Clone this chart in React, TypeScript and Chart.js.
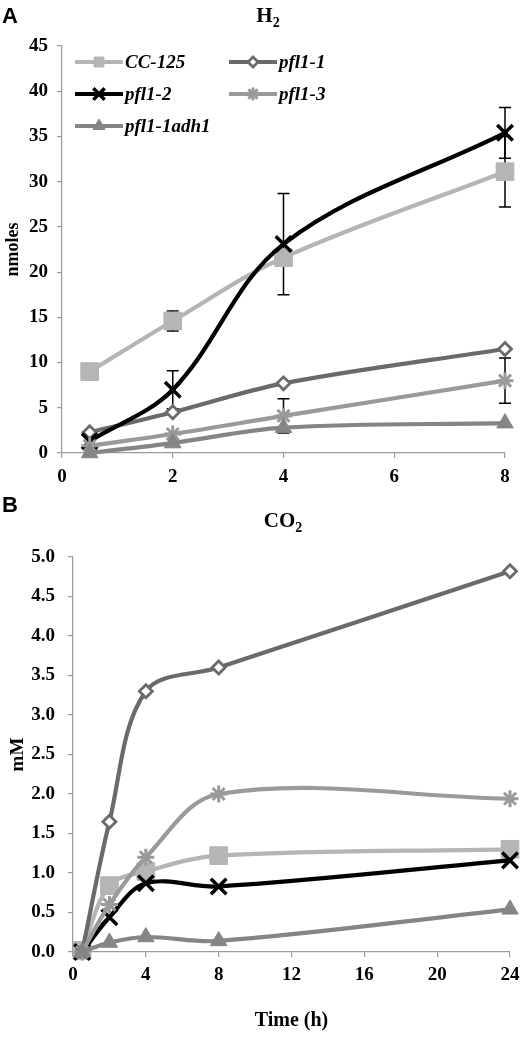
import React, { useEffect, useRef } from "react";
import { Chart, registerables } from "chart.js";
import { drawPoint } from "chart.js/helpers";

Chart.register(...registerables);

// ---------- data ----------
const seriesNames = ["CC-125", "pfl1-1", "pfl1-2", "pfl1-3", "pfl1-1adh1"];

// Panel A: H2 (nmoles)
const hoursA = [0.5, 2, 4, 8];
const h2CC125 = [9.0, 14.6, 21.6, 31.1];
const h2Pfl11 = [2.3, 4.5, 7.7, 11.5];
const h2Pfl12 = [1.3, 7.0, 23.1, 35.4];
const h2Pfl13 = [0.8, 2.1, 4.1, 8.0];
const h2Adh1 = [0.0, 1.1, 2.8, 3.3];
const h2ErrCC125 = [0, 1.1, 0, 3.9];
const h2ErrPfl11 = [0, 0, 0, 0];
const h2ErrPfl12 = [0, 2.1, 5.6, 2.8];
const h2ErrPfl13 = [0, 0, 1.9, 2.5];
const h2ErrAdh1 = [0, 0, 0, 0];

// Panel B: CO2 (mM)
const hoursB = [0.5, 2, 4, 8, 24];
const co2CC125 = [0.02, 0.84, 1.02, 1.22, 1.3];
const co2Pfl11 = [0.0, 1.65, 3.3, 3.6, 4.82];
const co2Pfl12 = [0.0, 0.44, 0.87, 0.83, 1.16];
const co2Pfl13 = [0.0, 0.6, 1.2, 2.0, 1.94];
const co2Adh1 = [0.0, 0.12, 0.19, 0.14, 0.54];

// ---------- styles ----------
const FONT = "'Liberation Serif', 'Times New Roman', serif";
const styles = [
  { color: "#b5b5b5", fill: "#b5b5b5", pointStyle: "rect", radius: 12.5, border: 1, legendRadius: 7 },
  { color: "#6a6a6a", fill: "#ffffff", pointStyle: "rectRot", radius: 6.5, border: 2.8, legendRadius: 5 },
  { color: "#000000", fill: "#000000", pointStyle: "crossRot", radius: 11, border: 3.5, legendRadius: 8 },
  { color: "#9a9a9a", fill: "#9a9a9a", pointStyle: "star", radius: 8.5, border: 3, legendRadius: 6.5 },
  { color: "#858585", fill: "#858585", pointStyle: "triangle", radius: 9.5, border: 1, legendRadius: 7 },
];

function makeDatasets(xs: number[], series: number[][], errs: number[][] | null) {
  return series.map((vals, i) => {
    const s = styles[i];
    return {
      label: seriesNames[i],
      data: vals.map((v, j) => ({ x: xs[j], y: v })),
      errors: errs ? errs[i] : null,
      borderColor: s.color,
      backgroundColor: s.fill,
      borderWidth: 4.2,
      tension: 0.35,
      pointStyle: s.pointStyle,
      pointRadius: s.radius,
      pointBorderWidth: s.border,
      pointBackgroundColor: s.fill,
      pointBorderColor: s.color,
      legendRadius: s.legendRadius,
      order: 10 - i,
      clip: false as any,
    };
  });
}

const errorBarPlugin = {
  id: "errorBars",
  beforeDatasetsDraw(chart: any) {
    const ctx = chart.ctx;
    const xs = chart.scales.x;
    const ys = chart.scales.y;
    ctx.save();
    ctx.strokeStyle = "#000";
    ctx.lineWidth = 1.5;
    chart.data.datasets.forEach((ds: any) => {
      if (!ds.errors) return;
      ds.data.forEach((p: any, j: number) => {
        const e = ds.errors[j];
        if (!e) return;
        const px = xs.getPixelForValue(p.x);
        const top = ys.getPixelForValue(p.y + e);
        const bot = ys.getPixelForValue(p.y - e);
        ctx.beginPath();
        ctx.moveTo(px, top);
        ctx.lineTo(px, bot);
        ctx.moveTo(px - 6, top);
        ctx.lineTo(px + 6, top);
        ctx.moveTo(px - 6, bot);
        ctx.lineTo(px + 6, bot);
        ctx.stroke();
      });
    });
    ctx.restore();
  },
};

const legendPlugin = {
  id: "insideLegend",
  afterDraw(chart: any) {
    const opts = chart.options.plugins.insideLegend;
    if (!opts || !opts.show) return;
    const ctx = chart.ctx;
    const ca = chart.chartArea;
    const colX = [ca.left + 13, ca.left + 167];
    const rowY = [ca.top + 16, ca.top + 48, ca.top + 80];
    const sampleW = 48;
    ctx.save();
    chart.data.datasets.forEach((ds: any, i: number) => {
      const col = i % 2;
      const row = Math.floor(i / 2);
      const x0 = colX[col];
      const y = rowY[row];
      ctx.strokeStyle = ds.borderColor;
      ctx.lineWidth = 4;
      ctx.beginPath();
      ctx.moveTo(x0, y);
      ctx.lineTo(x0 + sampleW, y);
      ctx.stroke();
      ctx.fillStyle = ds.pointBackgroundColor;
      ctx.strokeStyle = ds.pointBorderColor;
      ctx.lineWidth = ds.pointBorderWidth;
      drawPoint(ctx, { pointStyle: ds.pointStyle, radius: ds.legendRadius, borderWidth: ds.pointBorderWidth, rotation: 0 } as any, x0 + sampleW / 2, y);
      ctx.fillStyle = "#000";
      ctx.font = "italic bold 19px " + FONT;
      ctx.textBaseline = "middle";
      ctx.textAlign = "left";
      ctx.fillText(ds.label, x0 + sampleW + 2, y + 1);
    });
    ctx.restore();
  },
};

function axisCommon(extra: any) {
  return {
    type: "linear",
    grid: { display: true, drawOnChartArea: false, drawTicks: true, tickLength: 5, color: "#9a9a9a", lineWidth: 1.2 },
    border: { display: true, color: "#9a9a9a", width: 1.2 },
    ...extra,
  };
}

const tickFont = { family: FONT, size: 19, weight: "bold" };

function ChartA() {
  const ref = useRef<HTMLCanvasElement | null>(null);
  useEffect(() => {
    const chart = new Chart(ref.current as HTMLCanvasElement, {
      type: "line",
      data: {
        datasets: makeDatasets(hoursA, [h2CC125, h2Pfl11, h2Pfl12, h2Pfl13, h2Adh1], [h2ErrCC125, h2ErrPfl11, h2ErrPfl12, h2ErrPfl13, h2ErrAdh1]) as any,
      },
      options: {
        animation: false,
        responsive: false,
        devicePixelRatio: 1,
        layout: { padding: { top: 46, right: 26, left: 0, bottom: 0 } },
        plugins: { legend: { display: false }, tooltip: { enabled: false }, insideLegend: { show: true } } as any,
        scales: {
          x: axisCommon({
            min: 0, max: 8,
            ticks: { stepSize: 2, color: "#000", font: tickFont, padding: 8 },
            afterFit: (s: any) => { s.height = 42; },
          }),
          y: axisCommon({
            min: 0, max: 45,
            ticks: { stepSize: 5, color: "#000", font: tickFont, padding: 9 },
            title: { display: true, text: "nmoles", color: "#000", font: { family: FONT, size: 18, weight: "bold" }, padding: { top: 3, bottom: 0 } },
            afterFit: (s: any) => { s.width = 62; },
          }),
        } as any,
      },
      plugins: [errorBarPlugin, legendPlugin],
    });
    return () => chart.destroy();
  }, []);
  return <canvas ref={ref} width={531} height={495} style={{ position: "absolute", left: 0, top: 0 }} />;
}

function ChartB() {
  const ref = useRef<HTMLCanvasElement | null>(null);
  useEffect(() => {
    const chart = new Chart(ref.current as HTMLCanvasElement, {
      type: "line",
      data: {
        datasets: makeDatasets(hoursB, [co2CC125, co2Pfl11, co2Pfl12, co2Pfl13, co2Adh1], null) as any,
      },
      options: {
        animation: false,
        responsive: false,
        devicePixelRatio: 1,
        layout: { padding: { top: 62, right: 21, left: 0, bottom: 0 } },
        plugins: { legend: { display: false }, tooltip: { enabled: false }, insideLegend: { show: false } } as any,
        scales: {
          x: axisCommon({
            min: 0, max: 24,
            ticks: { stepSize: 4, color: "#000", font: tickFont, padding: 7 },
            title: { display: true, text: "Time (h)", color: "#000", font: { family: FONT, size: 20, weight: "bold" }, padding: { top: 0, bottom: 4 } },
            afterFit: (s: any) => { s.height = 85; },
          }),
          y: axisCommon({
            min: 0, max: 5,
            ticks: { stepSize: 0.5, color: "#000", font: tickFont, padding: 13, callback: (v: any) => Number(v).toFixed(1) },
            title: { display: true, text: "mM", color: "#000", font: { family: FONT, size: 19, weight: "bold" }, padding: { top: 7, bottom: 0 } },
            afterFit: (s: any) => { s.width = 73; },
          }),
        } as any,
      },
      plugins: [errorBarPlugin],
    });
    return () => chart.destroy();
  }, []);
  return <canvas ref={ref} width={531} height={542} style={{ position: "absolute", left: 0, top: 0 }} />;
}

const letterStyle: React.CSSProperties = {
  position: "absolute",
  fontFamily: "'Liberation Sans', Arial, sans-serif",
  fontWeight: "bold",
  fontSize: 22,
  lineHeight: "22px",
  color: "#000",
};
const titleStyle: React.CSSProperties = {
  position: "absolute",
  fontFamily: FONT,
  fontWeight: "bold",
  fontSize: 21,
  lineHeight: "21px",
  color: "#000",
  textAlign: "center",
  width: 120,
};

export default function App() {
  return (
    <div style={{ position: "absolute", left: 0, top: 0, width: 531, height: 1037, background: "#fff", overflow: "hidden" }}>
      <div style={{ position: "absolute", left: 0, top: 0, width: 531, height: 495 }}>
        <ChartA />
        <div style={{ ...letterStyle, left: 2, top: 5 }}>A</div>
        <div style={{ ...titleStyle, left: 208, top: 5 }}>H<sub style={{ fontSize: 14, lineHeight: "0" }}>2</sub></div>
      </div>
      <div style={{ position: "absolute", left: 0, top: 495, width: 531, height: 542 }}>
        <ChartB />
        <div style={{ ...letterStyle, left: 2, top: -1 }}>B</div>
        <div style={{ ...titleStyle, left: 223, top: 15 }}>CO<sub style={{ fontSize: 14, lineHeight: "0" }}>2</sub></div>
      </div>
    </div>
  );
}
